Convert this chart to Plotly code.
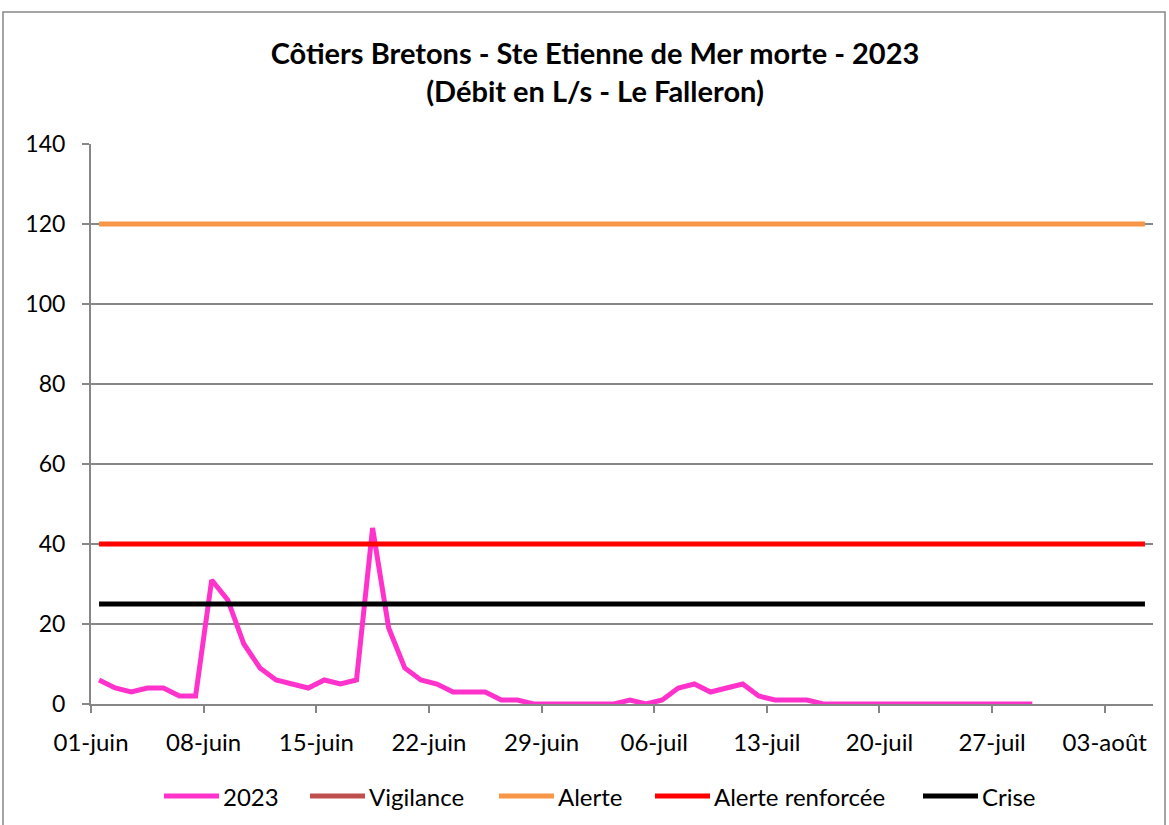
import pandas as pd
import plotly.graph_objects as go

# Daily flow 2023 (L/s), from 01-juin to 29-juil
debit_2023 = [6, 4, 3, 4, 4, 2, 2, 31, 26, 15,
              9, 6, 5, 4, 6, 5, 6, 44, 19, 9,
              6, 5, 3, 3, 3, 1, 1, 0, 0, 0,
              0, 0, 0, 1, 0, 1, 4, 5, 3, 4,
              5, 2, 1, 1, 1, 0, 0, 0, 0, 0,
              0, 0, 0, 0, 0, 0, 0, 0, 0]
start_date = "2023-06-01"
end_date = "2023-08-05"

# Thresholds (L/s)
seuil_vigilance = None
seuil_alerte = 120
seuil_alerte_renforcee = 40
seuil_crise = 25

tick_dates = ["2023-06-01", "2023-06-08", "2023-06-15", "2023-06-22", "2023-06-29",
              "2023-07-06", "2023-07-13", "2023-07-20", "2023-07-27", "2023-08-03"]
tick_labels = ["01-juin", "08-juin", "15-juin", "22-juin", "29-juin",
               "06-juil", "13-juil", "20-juil", "27-juil", "03-août"]
y_ticks = [0, 20, 40, 60, 80, 100, 120, 140]

series_names = ["2023", "Vigilance", "Alerte", "Alerte renforcée", "Crise"]
series_colors = ["#FF33CC", "#C0504D", "#F79646", "#FF0000", "#000000"]

dates = pd.date_range(start_date, periods=len(debit_2023), freq="D") + pd.Timedelta(hours=12)
span = [pd.Timestamp(start_date) + pd.Timedelta(hours=12), pd.Timestamp(end_date) + pd.Timedelta(hours=12)]

FONT = "Lato"
fig = go.Figure()
fig.add_trace(go.Scatter(x=dates, y=debit_2023, mode="lines", name=series_names[0],
                         line=dict(color=series_colors[0], width=5)))
fig.add_trace(go.Scatter(x=[span[0]], y=[seuil_vigilance], mode="lines", name=series_names[1],
                         line=dict(color=series_colors[1], width=5)))
fig.add_trace(go.Scatter(x=span, y=[seuil_alerte] * 2, mode="lines", name=series_names[2],
                         line=dict(color=series_colors[2], width=5)))
fig.add_trace(go.Scatter(x=span, y=[seuil_alerte_renforcee] * 2, mode="lines", name=series_names[3],
                         line=dict(color=series_colors[3], width=5)))
fig.add_trace(go.Scatter(x=span, y=[seuil_crise] * 2, mode="lines", name=series_names[4],
                         line=dict(color=series_colors[4], width=5)))

# --- Legend drawn below the plot (Excel-like long line keys) ---
L, W, B, H = 91, 1062, 704, 560  # plot area in px
def px(x):
    return (x - L) / W
legend_y = (B - 796) / H
key_starts = [164, 310, 499, 655, 923]   # px positions of legend keys
key_len = 55
shapes = [dict(type="rect", xref="paper", yref="paper",
               x0=px(3), x1=px(1165), y0=(B - 826) / H, y1=(B - 12) / H,
               line=dict(color="#868686", width=1.5), fillcolor="rgba(0,0,0,0)", layer="below")]
annotations = []
for name, color, x0 in zip(series_names, series_colors, key_starts):
    shapes.append(dict(type="line", xref="paper", yref="paper",
                       x0=px(x0), x1=px(x0 + key_len), y0=legend_y, y1=legend_y,
                       line=dict(color=color, width=5)))
    annotations.append(dict(text=name, xref="paper", yref="paper", x=px(x0 + key_len + 2), y=legend_y,
                            xanchor="left", yanchor="middle", showarrow=False,
                            font=dict(family=FONT, size=24, color="black")))

fig.update_layout(
    width=1169, height=825,
    margin=dict(l=91, r=16, t=144, b=121, autoexpand=False),
    paper_bgcolor="white", plot_bgcolor="white",
    font=dict(family=FONT, size=23, color="black"),
    title=dict(text="<b>Côtiers Bretons - Ste Etienne de Mer morte - 2023<br>(Débit en L/s - Le Falleron)</b>",
               x=0.509, xanchor="center", y=0.922, yanchor="middle",
               font=dict(family=FONT, size=29, color="black")),
    showlegend=False,
    xaxis=dict(range=[start_date, "2023-08-06"], tickvals=tick_dates, ticktext=tick_labels,
               showgrid=False, showline=True, linecolor="#868686", linewidth=2,
               ticks="outside", ticklen=7, tickcolor="#868686", tickwidth=2,
               zeroline=False, ticklabelstandoff=9, tickfont=dict(size=24)),
    yaxis=dict(range=[0, 140], tickvals=y_ticks, showgrid=True, gridcolor="#868686", gridwidth=2,
               showline=True, linecolor="#868686", linewidth=2,
               ticks="outside", ticklen=7, tickcolor="#868686", tickwidth=2,
               zeroline=False, ticklabelstandoff=12),
    shapes=shapes,
    annotations=annotations,
)

fig.write_html("out.html", post_script="document.body.style.margin='0';",
               config={"displayModeBar": False})
